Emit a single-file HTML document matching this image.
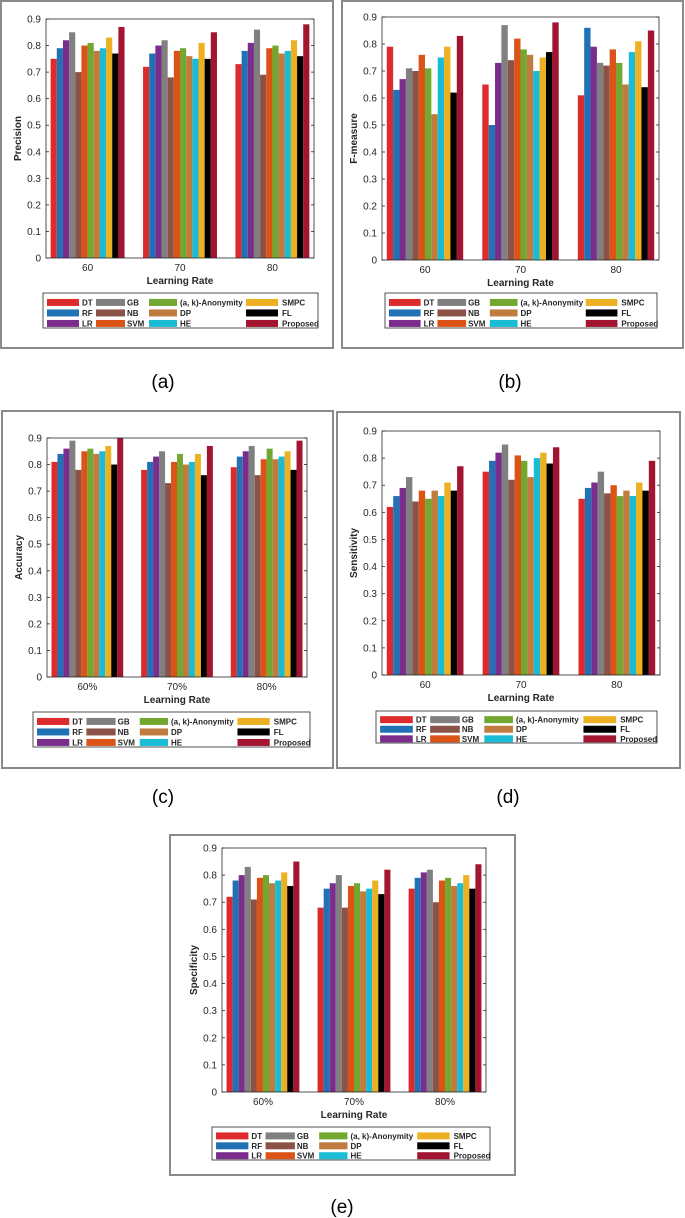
<!DOCTYPE html>
<html><head><meta charset="utf-8"><style>
html,body{margin:0;padding:0;background:#fff}
svg{display:block}
text{font-family:"Liberation Sans",Arial,sans-serif}
</style></head><body>
<svg id="fig" width="685" height="1218" viewBox="0 0 685 1218" xmlns="http://www.w3.org/2000/svg"></svg>
<script>
const seriesNames=["DT","RF","LR","GB","NB","SVM","(a, k)-Anonymity","DP","HE","SMPC","FL","Proposed"];
const seriesColors=["#dd2a2c","#2171b5","#7b2d8e","#808080","#8b5347","#dc5318","#73a830","#c07c3e","#19bcd4","#ecb022","#000000","#a2142f"];
const yTicks=[0,0.1,0.2,0.3,0.4,0.5,0.6,0.7,0.8,0.9];
const catsA=["60","70","80"];
const catsC=["60%","70%","80%"];
const precision=[[.75,.79,.82,.85,.70,.80,.81,.78,.79,.83,.77,.87],[.72,.77,.80,.82,.68,.78,.79,.76,.75,.81,.75,.85],[.73,.78,.81,.86,.69,.79,.80,.77,.78,.82,.76,.88]];
const fmeasure=[[.79,.63,.67,.71,.70,.76,.71,.54,.75,.79,.62,.83],[.65,.50,.73,.87,.74,.82,.78,.76,.70,.75,.77,.88],[.61,.86,.79,.73,.72,.78,.73,.65,.77,.81,.64,.85]];
const accuracy=[[.81,.84,.86,.89,.78,.85,.86,.84,.85,.87,.80,.90],[.78,.81,.83,.85,.73,.81,.84,.80,.81,.84,.76,.87],[.79,.83,.85,.87,.76,.82,.86,.82,.83,.85,.78,.89]];
const sensitivity=[[.62,.66,.69,.73,.64,.68,.65,.68,.66,.71,.68,.77],[.75,.79,.82,.85,.72,.81,.79,.73,.80,.82,.78,.84],[.65,.69,.71,.75,.67,.70,.66,.68,.66,.71,.68,.79]];
const specificity=[[.72,.78,.80,.83,.71,.79,.80,.77,.78,.81,.76,.85],[.68,.75,.77,.80,.68,.76,.77,.74,.75,.78,.73,.82],[.75,.79,.81,.82,.70,.78,.79,.76,.77,.80,.75,.84]];

const NS="http://www.w3.org/2000/svg";
const svg=document.getElementById('fig');
function mk(tag,attrs,parent){const e=document.createElementNS(NS,tag);for(const k in attrs)e.setAttribute(k,attrs[k]);(parent||svg).appendChild(e);return e;}

function panel(cfg){
  const g=mk('g',{});
  
  
  const f=cfg.frame;
  const fr=mk('rect',{x:f[0],y:f[1],width:f[2]-f[0],height:f[3]-f[1],fill:'#fff',stroke:'#8a8a8a','stroke-width':2},g);
  
  
  const [l,t,r,b]=cfg.axes;
  const y=v=>b-(v/0.9)*(b-t);
  const xs=(r-l)/2.9;
  const x=u=>l+(u-0.55)*xs;
  const gw=0.8;
  cfg.data.forEach((vals,gi)=>{
    vals.forEach((v,si)=>{
      const x0=x(gi+1-gw/2+si*gw/12);
      const rc=mk('rect',{x:x0,y:y(v),width:gw/12*xs,height:b-y(v),fill:seriesColors[si]},g);
      
      
    });
  });
  mk('rect',{x:l,y:t,width:r-l,height:b-t,fill:'none',stroke:'#262626','stroke-width':0.8},g);
  yTicks.forEach(v=>{
    mk('line',{x1:l,x2:l+3,y1:y(v),y2:y(v),stroke:'#262626','stroke-width':0.8},g);
    mk('line',{x1:r,x2:r-3,y1:y(v),y2:y(v),stroke:'#262626','stroke-width':0.8},g);
    const tx=mk('text',{x:l-5,y:y(v)+3.5,'font-size':10,'text-anchor':'end',fill:'#262626'},g);
    tx.textContent=String(v);
    
    
  });
  cfg.cats.forEach((c,gi)=>{
    const tx=mk('text',{x:x(gi+1),y:b+13,'font-size':10,'text-anchor':'middle',fill:'#262626'},g);
    tx.textContent=c;
    
    
  });
  const xt=mk('text',{x:(l+r)/2,y:b+26,'font-size':10,'font-weight':'bold','text-anchor':'middle',fill:'#262626'},g);
  xt.textContent='Learning Rate';
  
  
  const yt=mk('text',{x:0,y:0,'font-size':10,'font-weight':'bold','text-anchor':'middle',fill:'#262626',transform:`translate(${l-25},${(t+b)/2}) rotate(-90)`},g);
  yt.textContent=cfg.ylabel;
  
  
  const [lx,ly,rx,by]=cfg.legend;
  const W=rx-lx,H=by-ly;
  const lg=mk('g',{},g);
  
  
  mk('rect',{x:lx,y:ly,width:W,height:H,fill:'#fff',stroke:'#262626','stroke-width':0.8},lg);
  const sw=[4,53,106,203],swW=[32,29,28,32],lb=[39,84,137,239];
  for(let s=0;s<12;s++){
    const col=Math.floor(s/3),row=s%3;
    const cy=ly+H*(0.27+row*0.3);
    mk('rect',{x:lx+sw[col]*W/275,y:cy-3.5,width:swW[col]*W/275,height:7,fill:seriesColors[s]},lg);
    const tx=mk('text',{x:lx+lb[col]*W/275,y:cy+3,'font-size':8,'font-weight':'bold',fill:'#262626'},lg);
    tx.textContent=seriesNames[s];
    
    
  }
  const cap=mk('text',{x:cfg.cap[0],y:cfg.cap[1],'font-size':19,'text-anchor':'middle',fill:'#000','font-family':cfg.capFont},svg);
  cap.textContent=cfg.capText;
  
  
}
const serif='"Liberation Serif",serif';
panel({id:'precision',frame:[1,1,333,348],axes:[46,19,314,258],legend:[43,293,318,328],cats:catsA,data:precision,ylabel:'Precision',cap:[163,388],capText:'(a)',capFont:serif});
panel({id:'fmeasure',frame:[342,1,683,348],axes:[382,17,659,260],legend:[385,293,657,328],cats:catsA,data:fmeasure,ylabel:'F-measure',cap:[510,388],capText:'(b)',capFont:serif});
panel({id:'accuracy',frame:[2,411,333,768],axes:[47,438,307,677],legend:[33,712,310,747],cats:catsC,data:accuracy,ylabel:'Accuracy',cap:[163,803],capText:'(c)',capFont:serif});
panel({id:'sensitivity',frame:[337,412,680,768],axes:[382,431,660,675],legend:[376,711,657,743],cats:catsA,data:sensitivity,ylabel:'Sensitivity',cap:[508,803],capText:'(d)',capFont:serif});
panel({id:'specificity',frame:[170,835,515,1175],axes:[222,848,486,1092],legend:[212,1127,490,1160],cats:catsC,data:specificity,ylabel:'Specificity',cap:[342,1213],capText:'(e)',capFont:'"Liberation Sans",sans-serif'});
</script>
</body></html>
